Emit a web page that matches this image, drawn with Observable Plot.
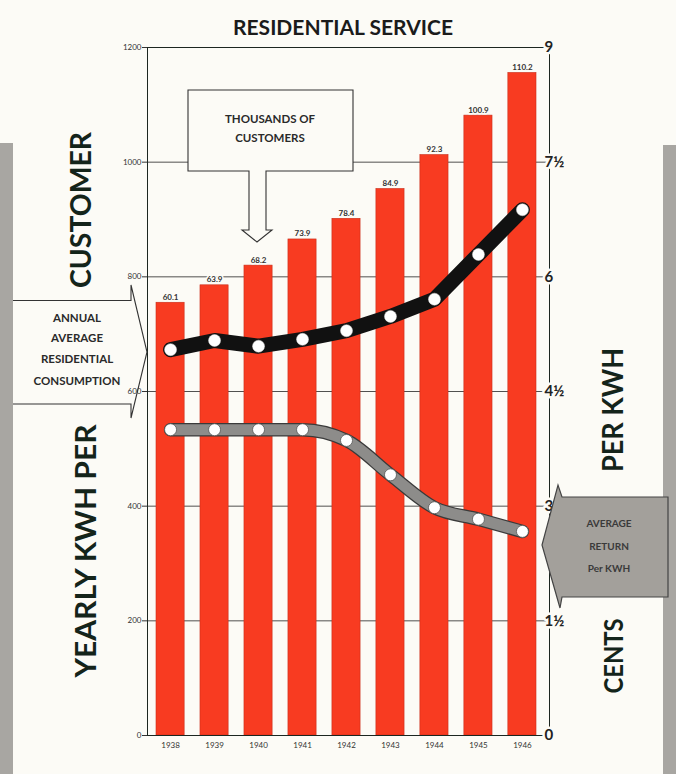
<!DOCTYPE html>
<html><head><meta charset="utf-8">
<script src="https://cdn.jsdelivr.net/npm/d3@7"></script>
<script src="https://cdn.jsdelivr.net/npm/@observablehq/plot@0.6"></script>
<style>
html,body{margin:0;padding:0;background:#fcfbf6;}
#chart{position:relative;width:676px;height:774px;overflow:hidden;}
#chart svg{display:block;}
</style></head><body><div id="chart"></div>
<script>
// ---- data ----
const years = ["1938","1939","1940","1941","1942","1943","1944","1945","1946"];
const customersThousands = [60.1, 63.9, 68.2, 73.9, 78.4, 84.9, 92.3, 100.9, 110.2];
const yearlyKwhPerCustomer = [673, 689, 679, 691, 706, 731, 761, 839, 917];
const centsPerKwh = [4.0, 4.0, 4.0, 4.0, 3.86, 3.41, 2.98, 2.83, 2.67];
const kwhTicks = [0, 200, 400, 600, 800, 1000, 1200];
const centTickLabels = ["0", "1½", "3", "4½", "6", "7½", "9"];
// customers bars are drawn on an offset scale in the original (expressed in kWh-axis units)
const barOffset = 274, barPerThousand = 8;
const kwhPerCent = 1200 / 9;

const bg = "#fcfbf6", ink = "#1c2620", green = "#14241a";
const data = years.map((year, i) => ({
  year,
  customers: customersThousands[i],
  kwh: yearlyKwhPerCustomer[i],
  cents: centsPerKwh[i]
}));
const barTop = d => barOffset + barPerThousand * d.customers;

const plot = Plot.plot({
  width: 676, height: 774,
  marginLeft: 147, marginRight: 127, marginTop: 47, marginBottom: 39,
  style: {background: "transparent", fontFamily: "Lato, 'Open Sans', sans-serif", color: ink, overflow: "visible"},
  x: {domain: years, range: [156, 536], paddingInner: 0.36, paddingOuter: 0, round: false},
  y: {domain: [0, 1200]},
  marks: [
    Plot.gridY(kwhTicks, {stroke: "#333", strokeOpacity: 0.85, strokeWidth: 1}),
    Plot.barY(data, {x: "year", y1: 0, y2: barTop, fill: "#f83b21", stroke: "#c92e1a", strokeWidth: 0.6}),
    Plot.text(data, {x: "year", y: barTop, text: d => d.customers.toFixed(1), lineAnchor: "bottom", dy: -3,
      fontSize: 8, fontWeight: "bold", fill: "#333", stroke: bg, strokeWidth: 3}),
    Plot.frame({stroke: ink, strokeWidth: 1}),
    Plot.axisY(kwhTicks, {anchor: "left", tickSize: 5, tickPadding: 1, fontSize: 8, label: null,
      tickFormat: d => String(d), fill: "#333", stroke: "#333"}),
    Plot.text(kwhTicks, {y: d => d, frameAnchor: "right", dx: -5, textAnchor: "start",
      text: d => centTickLabels[kwhTicks.indexOf(d)], fontSize: 15, fontWeight: "bold", fill: "#222",
      stroke: bg, strokeWidth: 5}),
    Plot.axisX({tickSize: 0, tickPadding: 7, fontSize: 8, label: null, fill: "#333"}),
    // yearly kWh per customer: thick black line
    Plot.line(data, {x: "year", y: "kwh", stroke: "#111", strokeWidth: 15, strokeLinejoin: "round", strokeLinecap: "round"}),
    Plot.dot(data, {x: "year", y: "kwh", r: 6, fill: "white", stroke: "#ddd", strokeWidth: 0.5}),
    // average return per kWh: gray outlined line
    Plot.line(data, {x: "year", y: d => d.cents * kwhPerCent, stroke: "#3a3a3a", strokeWidth: 13.5, strokeLinejoin: "round", strokeLinecap: "round", curve: "monotone-x"}),
    Plot.line(data, {x: "year", y: d => d.cents * kwhPerCent, stroke: "#8d8c8a", strokeWidth: 11, strokeLinejoin: "round", strokeLinecap: "round", curve: "monotone-x"}),
    Plot.dot(data, {x: "year", y: d => d.cents * kwhPerCent, r: 6, fill: "white", stroke: "#555", strokeWidth: 0.8})
  ]
});
document.getElementById("chart").appendChild(plot);

// ---- decorations (callouts, titles) ----
const svg = d3.select(plot);
const deco = svg.insert("g", ":first-child");
deco.append("rect").attr("x", 0).attr("y", 143).attr("width", 13).attr("height", 631).attr("fill", "#a8a6a2");
deco.append("rect").attr("x", 663).attr("y", 145).attr("width", 13).attr("height", 629).attr("fill", "#a8a6a2");

const over = svg.append("g");
// top callout
over.append("path")
  .attr("d", "M188,90 H353 V171 H266 V230 H272 L257,242 L242,230 H249 V171 H188 Z")
  .attr("fill", bg).attr("stroke", "#333").attr("stroke-width", 1.1);
[["THOUSANDS OF", 120], ["CUSTOMERS", 139]].forEach(([t, y]) =>
  over.append("text").attr("x", 270).attr("y", y).attr("text-anchor", "middle").attr("dominant-baseline", "middle")
    .attr("font-family", "Lato, sans-serif").attr("font-weight", "bold").attr("font-size", 11.5).attr("fill", "#2a2a2a").text(t));

// left callout
over.append("path").attr("d", "M13,300.5 H131 L131,285 L147,352 L131,418 V404 H13 Z").attr("fill", bg);
over.append("path").attr("d", "M13,300.5 H131 L131,285 L147,352 L131,418 V404 H13")
  .attr("fill", "none").attr("stroke", "#333").attr("stroke-width", 1.1);
[["ANNUAL", 319], ["AVERAGE", 339], ["RESIDENTIAL", 360], ["CONSUMPTION", 382]].forEach(([t, y]) =>
  over.append("text").attr("x", 77).attr("y", y).attr("text-anchor", "middle").attr("dominant-baseline", "middle")
    .attr("font-family", "Lato, sans-serif").attr("font-weight", "bold").attr("font-size", 11.5).attr("fill", "#2a2a2a").text(t));

// right callout
over.append("path").attr("d", "M668,497 H562 L558,485 L542,545 L560,608 L562,597 H668 Z")
  .attr("fill", "#a3a09b").attr("stroke", "#444").attr("stroke-width", 1.2);
[["AVERAGE", 524], ["RETURN", 547], ["Per KWH", 569]].forEach(([t, y]) =>
  over.append("text").attr("x", 609).attr("y", y).attr("text-anchor", "middle").attr("dominant-baseline", "middle")
    .attr("font-family", "Lato, sans-serif").attr("font-weight", "bold").attr("font-size", 10).attr("fill", "#3a3a3a").text(t));

// titles
function label(t, x, y, size, len, rot, color) {
  over.append("text").attr("transform", `translate(${x},${y}) rotate(${rot})`)
    .attr("text-anchor", "middle").attr("dominant-baseline", "central")
    .attr("font-family", "Lato, sans-serif").attr("font-weight", "bold").attr("font-size", size)
    .attr("textLength", len).attr("lengthAdjust", "spacingAndGlyphs").attr("fill", color).text(t);
}
label("RESIDENTIAL SERVICE", 343, 27, 20, 220, 0, "#1b1b1b");
label("CUSTOMER", 80, 210, 28, 156, -90, green);
label("YEARLY KWH PER", 85, 551, 28, 253, -90, green);
label("PER KWH", 612, 410, 28, 124, -90, green);
label("CENTS", 612, 656, 27, 75, -90, green);

// keep left tick labels readable above the callout
svg.selectAll('g[aria-label="y-axis tick label"]').raise();
</script></body></html>
